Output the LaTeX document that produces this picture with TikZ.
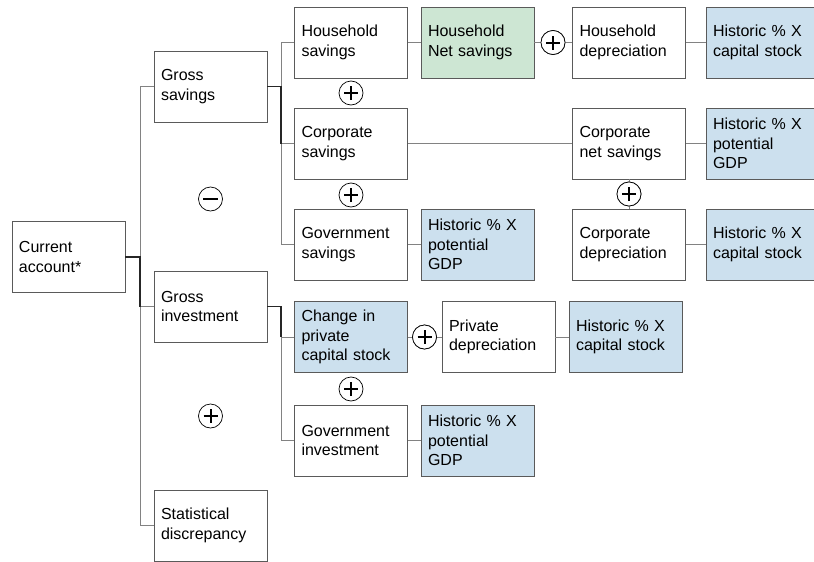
\documentclass[tikz,border=0pt]{standalone}
\usepackage{fontspec}
\setmainfont{Liberation Sans}
\definecolor{bluefill}{RGB}{204,224,238}
\definecolor{greenfill}{RGB}{205,230,211}
\definecolor{boxline}{RGB}{90,90,90}
\definecolor{conline}{RGB}{130,130,130}
\newcommand{\boxfont}{\fontsize{16pt}{19.3pt}\selectfont}
\begin{document}
\begin{tikzpicture}[x=1pt,y=-1pt,
  cbox/.style={draw=boxline, line width=0.8pt, fill=white, minimum width=113pt, minimum height=71pt,
    text width=99pt, inner xsep=7pt, inner ysep=3pt, align=left, font=\boxfont, anchor=center},
  bbox/.style={cbox, fill=bluefill},
  gbox/.style={cbox, fill=greenfill},
  opc/.style={draw=black, line width=0.7pt, fill=white, circle, minimum size=24pt, inner sep=0pt},
  con/.style={draw=conline, line width=0.9pt},
  mcon/.style={draw=black!85, line width=1.4pt},
  sign/.style={draw=black, line width=2pt}
]
\useasboundingbox (0,0) rectangle (814,562);
\clip (0,0) rectangle (814,562);
\fill[white] (0,0) rectangle (814,562);

% level 1
\node[cbox] (ca) at (68.5,257) {Current\\account*};
% level 2
\node[cbox] (gs) at (210.5,86.5) {Gross\\savings};
\node[cbox] (gi) at (210.5,306.5) {Gross\\investment};
\node[cbox] (sd) at (210.5,525.5) {Statistical\\discrepancy};
% level 3
\node[cbox] (hs) at (351,42.5) {Household\\savings};
\node[cbox] (cs) at (351,143.5) {Corporate\\savings};
\node[cbox] (gvs) at (351,244.5) {Government\\savings};
\node[bbox] (cp) at (351,337) {Change in\\private\\capital stock};
\node[cbox] (gvi) at (351,440.5) {Government\\investment};
% level 4
\node[gbox] (hns) at (477.5,42.5) {Household\\Net savings};
\node[cbox] (hd) at (629,42.5) {Household\\depreciation};
\node[bbox] (h1) at (762.5,42.5) {Historic \% X\\capital stock};
\node[cbox] (cns) at (629,143.5) {Corporate\\net savings};
\node[bbox] (h2) at (762.5,143.5) {Historic \% X\\potential\\GDP};
\node[bbox] (gvsh) at (477.5,244.5) {Historic \% X\\potential\\GDP};
\node[cbox] (cd) at (629,244.5) {Corporate\\depreciation};
\node[bbox] (h3) at (762.5,244.5) {Historic \% X\\capital stock};
\node[cbox] (pd) at (498.5,337) {Private\\depreciation};
\node[bbox] (h4) at (625.5,337) {Historic \% X\\capital stock};
\node[bbox] (gvih) at (477.5,440.5) {Historic \% X\\potential\\GDP};

% junction coordinates
\coordinate (ja) at (140,0);
\coordinate (jb) at (281,0);

% tree connectors (thin)
\draw[con] (gs.west -| ja) -- (sd.west -| ja);
\draw[con] (gs.west -| ja) -- (gs.west);
\draw[con] (gi.west -| ja) -- (gi.west);
\draw[con] (sd.west -| ja) -- (sd.west);
\draw[con] (hs.west -| jb) -- (gvs.west -| jb);
\draw[con] (hs.west -| jb) -- (hs.west);
\draw[con] (cs.west -| jb) -- (cs.west);
\draw[con] (gvs.west -| jb) -- (gvs.west);
\draw[con] (cp.west -| jb) -- (gvi.west -| jb);
\draw[con] (gi.east -| jb) -- (cp.west -| jb);
\draw[con] (cp.west -| jb) -- (cp.west);
\draw[con] (gvi.west -| jb) -- (gvi.west);
% tree connectors (main)
\draw[mcon] (ca.east) -- (ca.east -| ja) -- (gi.west -| ja);
\draw[mcon] (gs.east) -- (gs.east -| jb) -- (cs.west -| jb);
\draw[mcon] (gi.east) -- (gi.east -| jb) -- (cp.west -| jb);

% row connectors
\draw[con] (hs) -- (hns);
\draw[con] (hd) -- (h1);
\draw[con] (cs) -- (cns);
\draw[con] (cns) -- (h2);
\draw[con] (gvs) -- (gvsh);
\draw[con] (cd) -- (h3);
\draw[con] (pd) -- (h4);
\draw[con] (gvi) -- (gvih);

% operator circles
\node[opc] (p1) at (553,42.5) {};
\node[opc] (p2) at (351,93) {};
\node[opc] (p3) at (351,195) {};
\node[opc] (p4) at (629,194) {};
\node[opc] (m1) at (210.5,199) {};
\node[opc] (p5) at (210.5,416) {};
\node[opc] (p6) at (351,389) {};
\node[opc] (p7) at (424.5,337) {};
\draw[con] (hns) -- (p1) -- (hd);
\draw[con] (cns) -- (p4) -- (cd);
\draw[con] (cp) -- (p7) -- (pd);
\node[opc] at (p1) {};
\node[opc] at (p4) {};
\node[opc] at (p7) {};

\foreach \c in {p1,p2,p3,p4,p5,p6,p7}{
  \draw[sign] ([xshift=-7pt]\c.center) -- ([xshift=7pt]\c.center);
  \draw[sign] ([yshift=-7pt]\c.center) -- ([yshift=7pt]\c.center);
}
\draw[sign] ([xshift=-7.5pt]m1.center) -- ([xshift=7.5pt]m1.center);
\end{tikzpicture}
\end{document}
